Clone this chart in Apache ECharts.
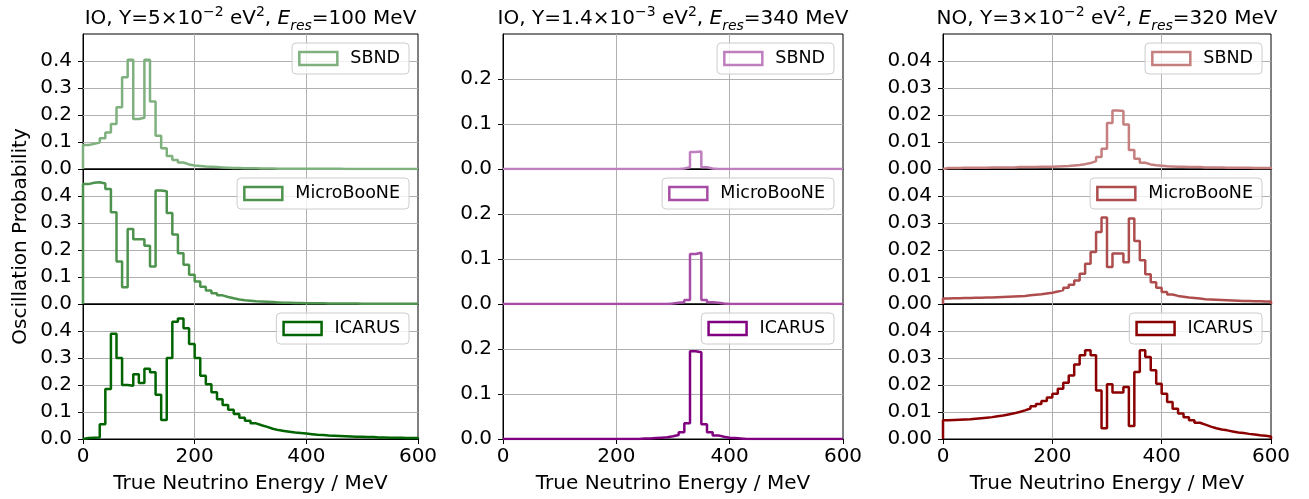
<!DOCTYPE html>
<html>
<head>
<meta charset="utf-8">
<title>Oscillation Probability</title>
<script src="https://cdn.jsdelivr.net/npm/echarts@6/dist/echarts.min.js"></script>
<style>
html, body { margin: 0; padding: 0; background: #fff; }
#main { width: 1309px; height: 499px; }
</style>
</head>
<body>
<div id="main"></div>
<script>
// 60 bins of 10 MeV, 0..600 MeV
var binWidth = 10;
var detectors = ['SBND', 'MicroBooNE', 'ICARUS'];

// IO, Y=5e-2, E_res=100
var sbndIO100 = [0.089,0.093,0.098,0.114,0.135,0.167,0.229,0.340,0.405,0.185,
	0.190,0.405,0.250,0.123,0.077,0.048,0.033,0.024,0.017,0.013,
	0.011,0.009,0.008,0.007,0.006,0.005,0.004,0.004,0.003,0.003,
	0.003,0.002,0.002,0.002,0.001,0.001,0.001,0.001,0.001,0.001,
	0.001,0.001,0.001,0.001,0.001,0.001,0,0,0,0,
	0,0,0,0,0,0,0,0,0,0];
var uboneIO100 = [0.444,0.449,0.451,0.446,0.426,0.340,0.157,0.062,0.278,0.240,
	0.240,0.216,0.139,0.420,0.418,0.337,0.257,0.188,0.145,0.108,
	0.083,0.064,0.050,0.040,0.032,0.026,0.021,0.017,0.014,0.012,
	0.010,0.009,0.008,0.007,0.006,0.005,0.005,0.004,0.004,0.003,
	0.003,0.003,0.003,0.002,0.002,0.002,0.002,0.002,0.002,0.001,
	0.001,0.001,0.001,0.001,0.001,0.001,0.001,0.001,0.001,0.001];
var icarusIO100 = [0.004,0.005,0.006,0.055,0.185,0.390,0.300,0.200,0.197,0.240,
	0.207,0.260,0.247,0.164,0.070,0.300,0.434,0.446,0.410,0.352,
	0.300,0.234,0.203,0.173,0.147,0.126,0.108,0.093,0.079,0.068,
	0.058,0.051,0.045,0.038,0.033,0.030,0.027,0.024,0.022,0.020,
	0.018,0.016,0.015,0.013,0.012,0.011,0.010,0.009,0.008,0.008,
	0.007,0.007,0.006,0.006,0.005,0.005,0.005,0.004,0.004,0.004];

// IO, Y=1.4e-3, E_res=340
var sbndIO340 = [0,0,0,0,0,0,0,0,0,0,
	0,0,0,0,0,0,0,0,0,0,
	0,0,0,0,0,0,0,0,0,0,
	0,0.001,0.004,0.038,0.039,0.004,0.001,0,0,0,
	0,0,0,0,0,0,0,0,0,0,
	0,0,0,0,0,0,0,0,0,0];
var uboneIO340 = [0,0,0,0,0,0,0,0,0,0,
	0,0,0,0,0,0,0,0,0,0,
	0,0,0,0,0,0,0,0,0,0.001,
	0.003,0.004,0.009,0.111,0.114,0.009,0.004,0.003,0.001,0,
	0,0,0,0,0,0,0,0,0,0,
	0,0,0,0,0,0,0,0,0,0];
var icarusIO340 = [0,0,0,0,0,0,0,0,0,0,
	0,0,0,0,0,0,0,0,0,0,
	0,0,0,0,0.001,0.001,0.002,0.003,0.004,0.006,
	0.009,0.015,0.035,0.195,0.193,0.033,0.015,0.008,0.005,0.003,
	0.002,0.001,0,0,0,0,0,0,0,0,
	0,0,0,0,0,0,0,0,0,0];

// NO, Y=3e-2, E_res=320
var sbndNO320 = [0.0004,0.0004,0.0004,0.0005,0.0005,0.0005,0.0005,0.0005,0.0006,0.0006,
	0.0006,0.0006,0.0006,0.0007,0.0007,0.0007,0.0007,0.0008,0.0008,0.0008,
	0.0009,0.0010,0.0011,0.0013,0.0015,0.0018,0.0022,0.0029,0.0044,0.0075,
	0.0170,0.0217,0.0215,0.0165,0.0070,0.0038,0.0023,0.0017,0.0014,0.0012,
	0.0010,0.0009,0.0008,0.0008,0.0007,0.0007,0.0007,0.0006,0.0006,0.0006,
	0.0006,0.0005,0.0005,0.0005,0.0005,0.0005,0.0004,0.0004,0.0004,0.0004];
var uboneNO320 = [0.0020,0.0021,0.0021,0.0022,0.0022,0.0023,0.0023,0.0024,0.0024,0.0025,
	0.0026,0.0027,0.0028,0.0029,0.0030,0.0032,0.0034,0.0036,0.0039,0.0042,
	0.0046,0.0052,0.0060,0.0071,0.0087,0.0112,0.0149,0.0193,0.0267,0.0320,
	0.0137,0.0187,0.0187,0.0155,0.0317,0.0233,0.0162,0.0110,0.0081,0.0060,
	0.0044,0.0035,0.0030,0.0027,0.0024,0.0022,0.0020,0.0018,0.0017,0.0016,
	0.0015,0.0014,0.0013,0.0012,0.0011,0.0011,0.0010,0.0010,0.0009,0.0009];
var icarusNO320 = [0.0069,0.0070,0.0071,0.0072,0.0073,0.0075,0.0077,0.0079,0.0081,0.0084,
	0.0087,0.0091,0.0095,0.0100,0.0106,0.0113,0.0121,0.0130,0.0141,0.0154,
	0.0168,0.0186,0.0208,0.0235,0.0276,0.0310,0.0329,0.0310,0.0180,0.0040,
	0.0203,0.0172,0.0172,0.0193,0.0048,0.0248,0.0329,0.0304,0.0255,0.0205,
	0.0168,0.0137,0.0112,0.0094,0.0081,0.0069,0.0060,0.0053,0.0046,0.0040,
	0.0035,0.0032,0.0028,0.0024,0.0022,0.0019,0.0017,0.0014,0.0012,0.0009];

var xTicks = [0, 200, 400, 600];
var yTicksIO100 = [0, 0.1, 0.2, 0.3, 0.4];
var yTicksIO340 = [0, 0.1, 0.2];
var yTicksNO320 = [0, 0.01, 0.02, 0.03, 0.04];

var FONT = 'DejaVu Sans';
var columns = [
	{ title: '{n|IO, Y=5×10}{sup|−2}{n| eV}{sup|2}{n|, }{it|E}{sub|res}{n|=100 MeV}',
	  values: [sbndIO100, uboneIO100, icarusIO100], colors: ['#7fb17f', '#4d934d', '#006400'],
	  yMax: 0.5, yStep: 0.1, yTicks: yTicksIO100, dec: 1, left: 83, width: 335 },
	{ title: '{n|IO, Y=1.4×10}{sup|−3}{n| eV}{sup|2}{n|, }{it|E}{sub|res}{n|=340 MeV}',
	  values: [sbndIO340, uboneIO340, icarusIO340], colors: ['#bf7fbf', '#a64da6', '#800080'],
	  yMax: 0.3, yStep: 0.1, yTicks: yTicksIO340, dec: 1, left: 503, width: 340 },
	{ title: '{n|NO, Y=3×10}{sup|−2}{n| eV}{sup|2}{n|, }{it|E}{sub|res}{n|=320 MeV}',
	  values: [sbndNO320, uboneNO320, icarusNO320], colors: ['#c57f7f', '#ae4d4d', '#8b0000'],
	  yMax: 0.05, yStep: 0.01, yTicks: yTicksNO320, dec: 2, left: 943, width: 328 }
];
var rowTops = [34, 169, 304];
var rowHeight = 135;

// histogram outline (histtype step): edges down to zero at both ends
function stepData(vals) {
	var pts = [[0, 0]];
	vals.forEach(function (v, i) { pts.push([i * binWidth, v]); });
	pts.push([vals.length * binWidth, vals[vals.length - 1]]);
	pts.push([vals.length * binWidth, 0]);
	return pts;
}

// grid lines only at the labelled ticks (inside the box)
function gridLines(yTicks) {
	var d = [];
	xTicks.slice(1, -1).forEach(function (v) { d.push({ xAxis: v }); });
	yTicks.slice(1).forEach(function (v) { d.push({ yAxis: v }); });
	return d;
}

var titleRich = {
	n: { fontFamily: FONT, fontSize: 20, lineHeight: 28, color: '#000' },
	it: { fontFamily: FONT, fontSize: 20, lineHeight: 28, fontStyle: 'italic', color: '#000' },
	sup: { fontFamily: FONT, fontSize: 14, lineHeight: 16, verticalAlign: 'top', color: '#000' },
	sub: { fontFamily: FONT, fontSize: 14, lineHeight: 16, verticalAlign: 'bottom', fontStyle: 'italic', color: '#000' }
};

var grids = [], xAxes = [], yAxes = [], series = [], legends = [], graphics = [];
columns.forEach(function (col, c) {
	graphics.push({
		type: 'text', x: col.left + col.width / 2, y: 5,
		style: { text: col.title, rich: titleRich, align: 'center', verticalAlign: 'top' }
	});
	for (var r = 0; r < 3; r++) {
		var k = grids.length;
		var isBottom = r === 2;
		grids.push({
			left: col.left, top: rowTops[r], width: col.width, height: rowHeight,
			show: true, borderColor: '#000', borderWidth: 1, backgroundColor: 'transparent',
			outerBoundsMode: 'none'
		});
		xAxes.push({
			gridIndex: k, type: 'value', min: 0, max: 600, interval: 200,
			axisLine: { show: true, lineStyle: { color: '#000', width: 1 } },
			axisTick: { show: isBottom, length: 5, customValues: xTicks, lineStyle: { color: '#000' } },
			axisLabel: { show: isBottom, customValues: xTicks, margin: 8, fontFamily: FONT, fontSize: 20, color: '#000' },
			splitLine: { show: false },
			name: isBottom ? 'True Neutrino Energy / MeV' : '',
			nameLocation: 'middle', nameGap: 35,
			nameTextStyle: { fontFamily: FONT, fontSize: 20, color: '#000' }
		});
		var dec = col.dec;
		yAxes.push({
			gridIndex: k, type: 'value', min: 0, max: col.yMax, interval: col.yStep,
			axisLine: { show: true, lineStyle: { color: '#000', width: 1 } },
			axisTick: { show: true, length: 5, customValues: col.yTicks, lineStyle: { color: '#000' } },
			axisLabel: {
				customValues: col.yTicks, margin: 11, fontFamily: FONT, fontSize: 20, color: '#000',
				formatter: (function (d) { return function (v) { return v.toFixed(d); }; })(dec)
			},
			splitLine: { show: false },
			name: (c === 0 && r === 1) ? 'Oscillation Probability' : '',
			nameLocation: 'middle', nameGap: 52, nameRotate: 90,
			nameTextStyle: { fontFamily: FONT, fontSize: 20, color: '#000' }
		});
		series.push({
			type: 'line', name: detectors[r], xAxisIndex: k, yAxisIndex: k, z: 3,
			data: stepData(col.values[r]), step: 'end', symbol: 'none', showSymbol: false,
			lineStyle: { color: col.colors[r], width: 2.5 }, itemStyle: { color: col.colors[r] },
			markLine: {
				z: 1, silent: true, animation: false, symbol: 'none',
				label: { show: false }, emphasis: { disabled: true },
				lineStyle: { color: '#b0b0b0', width: 1, type: 'solid' },
				data: gridLines(col.yTicks)
			},
			silent: true, animation: false
		});
		legends.push({
			data: [{ name: detectors[r], icon: 'rect',
				itemStyle: { color: 'rgba(0,0,0,0)', borderColor: col.colors[r], borderWidth: 2.5 } }],
			right: 1309 - (col.left + col.width) + 9, top: rowTops[r] + 9,
			itemWidth: 38, itemHeight: 13,
			padding: [5, 9, 5, 6],
			backgroundColor: 'rgba(255,255,255,0.8)', borderColor: '#cccccc', borderWidth: 1, borderRadius: 4,
			textStyle: { fontFamily: FONT, fontSize: 17.5, color: '#000', lineHeight: 21, padding: [0, 0, 0, 8] },
			selectedMode: false
		});
	}
});

var myChart = echarts.init(document.getElementById('main'));
myChart.setOption({
	animation: false,
	textStyle: { fontFamily: FONT },
	grid: grids,
	xAxis: xAxes,
	yAxis: yAxes,
	legend: legends,
	graphic: graphics,
	series: series
});
</script>
</body>
</html>
